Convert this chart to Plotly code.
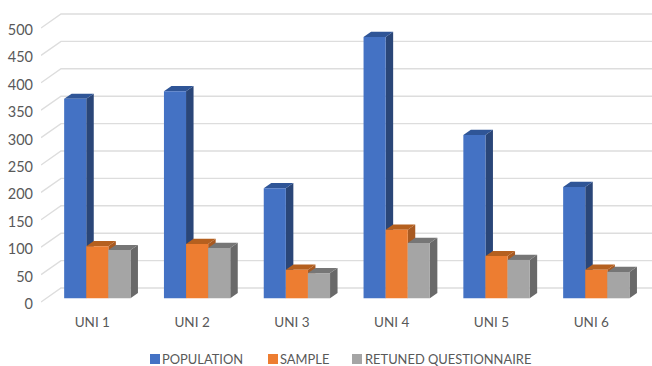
import plotly.graph_objects as go

categories = ["UNI 1", "UNI 2", "UNI 3", "UNI 4", "UNI 5", "UNI 6"]
population = [364, 378, 201, 477, 298, 203]
sample = [95, 99, 52, 125, 77, 52]
returned = [88, 92, 46, 101, 70, 48]
y_ticks = [0, 50, 100, 150, 200, 250, 300, 350, 400, 450, 500]

series = [
    ("POPULATION", population, "#4472C4", "#2F5597", "#2A4678"),
    ("SAMPLE", sample, "#ED7D31", "#B5601F", "#A85A22"),
    ("RETUNED QUESTIONNAIRE", returned, "#A5A5A5", "#767676", "#696969"),
]

FONT = "Lato"
TEXT = "#595959"

# Pixel geometry of the plot frame, turned into axis units below
WIDTH, HEIGHT = 652, 366
LEFT, TOP, BOTTOM = 41, 10, 64
PX_PER_CAT = 99.8
PX_PER_UNIT = 0.548
FIRST_CENTER_PX = 97.3
PLANE_PX = 298.3  # baseline of the bar fronts

dx = 1 / PX_PER_CAT  # one pixel along x
dy = 1 / PX_PER_UNIT  # one pixel along y

x_range = [(LEFT - FIRST_CENTER_PX) * dx, (WIDTH - FIRST_CENTER_PX) * dx]
floor_front = -(HEIGHT - BOTTOM - PLANE_PX) * dy
y_range = [floor_front - 4 * dy, (PLANE_PX - TOP) * dy]
plot_h = HEIGHT - BOTTOM - TOP + 4

BAR_W = 22.1 * dx
DEPTH_X, DEPTH_Y = 7.5 * dx, 5.2 * dy

fig = go.Figure()

# Back wall gridlines with their short diagonals across the left side wall
wall_rise = 14 * dy
wall_run = 20 * dx
gx, gy = [], []
for v in y_ticks:
    gx += [x_range[0], x_range[0] + wall_run, x_range[1], None]
    gy += [v + floor_front, v + floor_front + wall_rise, v + floor_front + wall_rise, None]
fig.add_trace(go.Scatter(x=gx, y=gy, mode="lines", showlegend=False, hoverinfo="skip",
                         line=dict(color="#DDDDDD", width=1.4), zorder=0))

# Extruded top and side faces of each bar
for s_idx, (name, vals, front, top, side) in enumerate(series):
    tx, ty, sx, sy = [], [], [], []
    for i, v in enumerate(vals):
        x0 = i + (s_idx - 1.5) * BAR_W
        x1 = x0 + BAR_W
        tx += [x0, x1, x1 + DEPTH_X, x0 + DEPTH_X, x0, None]
        ty += [v, v, v + DEPTH_Y, v + DEPTH_Y, v, None]
        sx += [x1, x1 + DEPTH_X, x1 + DEPTH_X, x1, x1, None]
        sy += [0, DEPTH_Y, v + DEPTH_Y, v, 0, None]
    for fx, fy, col in ((sx, sy, side), (tx, ty, top)):
        fig.add_trace(go.Scatter(x=fx, y=fy, mode="lines", fill="toself", fillcolor=col,
                                 line=dict(width=0, color=col), showlegend=False,
                                 hoverinfo="skip", zorder=s_idx + 1))

# Bar fronts sit above every extruded face
for s_idx, (name, vals, front, top, side) in enumerate(series):
    fig.add_trace(go.Bar(x=[i + (s_idx - 1) * BAR_W for i in range(len(vals))], y=vals,
                         width=BAR_W, name=name, marker=dict(color=front, line=dict(width=0)),
                         showlegend=False, zorder=10))

# Legend row: swatch plus label per series
legend_swatch_px = [150, 268, 352]
legend_text_px = [160, 278, 363]
LEG_Y = 359
plot_w = WIDTH - LEFT
base_y = HEIGHT - BOTTOM + 4
shapes, annotations = [], []
for (name, _, front, _, _), sw, tx in zip(series, legend_swatch_px, legend_text_px):
    shapes.append(dict(type="rect", xref="paper", yref="paper", line=dict(width=0), fillcolor=front,
                       x0=(sw - LEFT) / plot_w, x1=(sw + 10 - LEFT) / plot_w,
                       y0=(base_y - LEG_Y - 5) / plot_h, y1=(base_y - LEG_Y + 5) / plot_h))
    annotations.append(dict(text=name, showarrow=False, xref="paper", yref="paper",
                            x=(tx - LEFT) / plot_w, xanchor="left",
                            y=(base_y - LEG_Y + 0.5) / plot_h, yanchor="middle",
                            font=dict(family=FONT, size=12.9, color=TEXT)))

fig.update_layout(
    width=WIDTH, height=HEIGHT,
    margin=dict(l=LEFT, r=0, t=TOP, b=BOTTOM - 4, pad=0),
    paper_bgcolor="white", plot_bgcolor="white",
    barmode="overlay", showlegend=False,
    shapes=shapes, annotations=annotations,
    font=dict(family=FONT, size=14, color=TEXT),
    xaxis=dict(range=x_range, tickmode="array",
               tickvals=[i - 5 * dx for i in range(len(categories))], ticktext=categories,
               showgrid=False, zeroline=False, showline=False, ticks="", ticklabelstandoff=6,
               tickfont=dict(family=FONT, size=13.5, color=TEXT)),
    # Tick labels hang slightly below the front edge of each gridline
    yaxis=dict(range=y_range, tickmode="array",
               tickvals=[v + floor_front - 2 * dy for v in y_ticks],
               ticktext=[str(v) for v in y_ticks],
               showgrid=False, zeroline=False, showline=False, ticks="", ticklabelstandoff=7,
               tickfont=dict(family=FONT, size=14.5, color=TEXT)),
)

fig.write_html("out.html", config=dict(displayModeBar=False))
